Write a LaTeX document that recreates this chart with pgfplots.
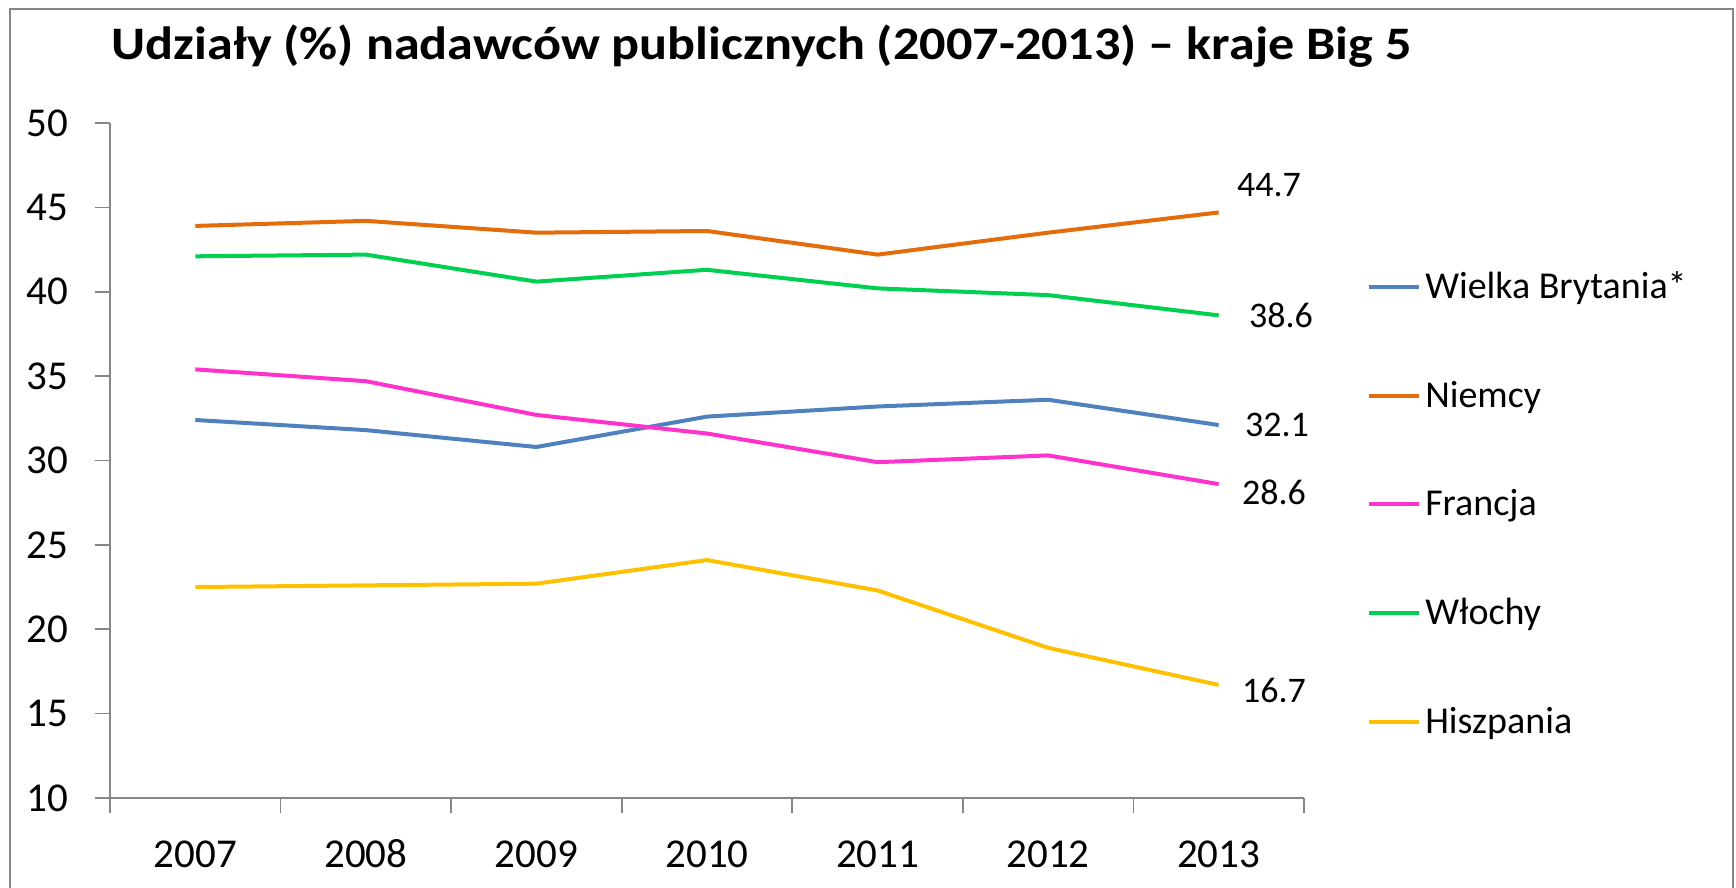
\documentclass[border=0pt]{standalone}
\usepackage{pgfplots}
\pgfplotsset{compat=1.18}
\usepackage{fontspec}
\setmainfont{Carlito}
\newfontfamily\titlefont[FakeStretch=1.12]{Carlito}
\definecolor{cUK}{HTML}{4F81BD}
\definecolor{cDE}{HTML}{E46C0A}
\definecolor{cFR}{HTML}{FF33CC}
\definecolor{cIT}{HTML}{00D050}
\definecolor{cES}{HTML}{FFC000}
\definecolor{axgray}{HTML}{868686}
\begin{document}
\begin{tikzpicture}
\useasboundingbox (-55pt,-45pt) rectangle (813pt,399pt);
\draw[axgray, line width=1pt] (-50pt,-60pt) rectangle (811.5pt,394.5pt);
\node[anchor=base, inner sep=0pt, font=\titlefont\fontsize{23.3}{28}\selectfont\bfseries] at (325.75pt,369pt)
  {Udziały (\%) nadawców publicznych (2007-2013) – kraje Big 5};
\begin{axis}[
  at={(0,0)}, anchor=south west,
  scale only axis, width=597pt, height=337.5pt,
  xmin=-0.5, xmax=6.5, ymin=10, ymax=50,
  ytick={10,15,20,25,30,35,40,45,50},
  xtick={-0.5,0.5,1.5,2.5,3.5,4.5,5.5,6.5}, xticklabels={},
  extra x ticks={0,1,2,3,4,5,6},
  extra x tick labels={2007,2008,2009,2010,2011,2012,2013},
  extra x tick style={major tick length=0pt,
    xticklabel style={anchor=north, text height=14pt, text depth=0pt, yshift=-17pt}},
  tick align=outside, major tick length=7.5pt,
  axis x line*=bottom, axis y line*=left,
  axis line style={axgray, line width=0.8pt},
  tick style={axgray, line width=0.8pt},
  ticklabel style={font=\fontsize{20.5}{24}\selectfont},
  yticklabel style={xshift=-10pt},
  /pgf/number format/assume math mode=true,
  legend style={at={(1.053,0.4356)}, anchor=west, draw=none, fill=none,
    inner sep=0pt, outer sep=0pt, row sep=35.75pt,
    font=\fontsize{19}{23}\selectfont},
  legend cell align=left,
  legend image code/.code={\draw[#1, line width=2pt] (0pt,0pt) -- (25pt,0pt);},
  every axis plot/.append style={line width=2pt, mark=none},
  clip=false,
]
\addplot[cUK] coordinates {(0,32.4) (1,31.8) (2,30.8) (3,32.6) (4,33.2) (5,33.6) (6,32.1)};
\addlegendentry{Wielka Brytania*}
\addplot[cDE] coordinates {(0,43.9) (1,44.2) (2,43.5) (3,43.6) (4,42.2) (5,43.5) (6,44.7)};
\addlegendentry{Niemcy}
\addplot[cFR] coordinates {(0,35.4) (1,34.7) (2,32.7) (3,31.6) (4,29.9) (5,30.3) (6,28.6)};
\addlegendentry{Francja}
\addplot[cIT] coordinates {(0,42.1) (1,42.2) (2,40.6) (3,41.3) (4,40.2) (5,39.8) (6,38.6)};
\addlegendentry{Włochy}
\addplot[cES] coordinates {(0,22.5) (1,22.6) (2,22.7) (3,24.1) (4,22.3) (5,18.9) (6,16.7)};
\addlegendentry{Hiszpania}
\begin{scope}[every node/.style={anchor=west, inner sep=0pt, font=\fontsize{18}{22}\selectfont}]
\node at (axis cs:6,44.7) [xshift=9pt, yshift=13.5pt] {44.7};
\node at (axis cs:6,38.6) [xshift=15pt] {38.6};
\node at (axis cs:6,32.1) [xshift=13pt] {32.1};
\node at (axis cs:6,28.6) [xshift=11.5pt, yshift=-4pt] {28.6};
\node at (axis cs:6,16.7) [xshift=11.5pt, yshift=-3pt] {16.7};
\end{scope}
\end{axis}
\end{tikzpicture}
\end{document}
